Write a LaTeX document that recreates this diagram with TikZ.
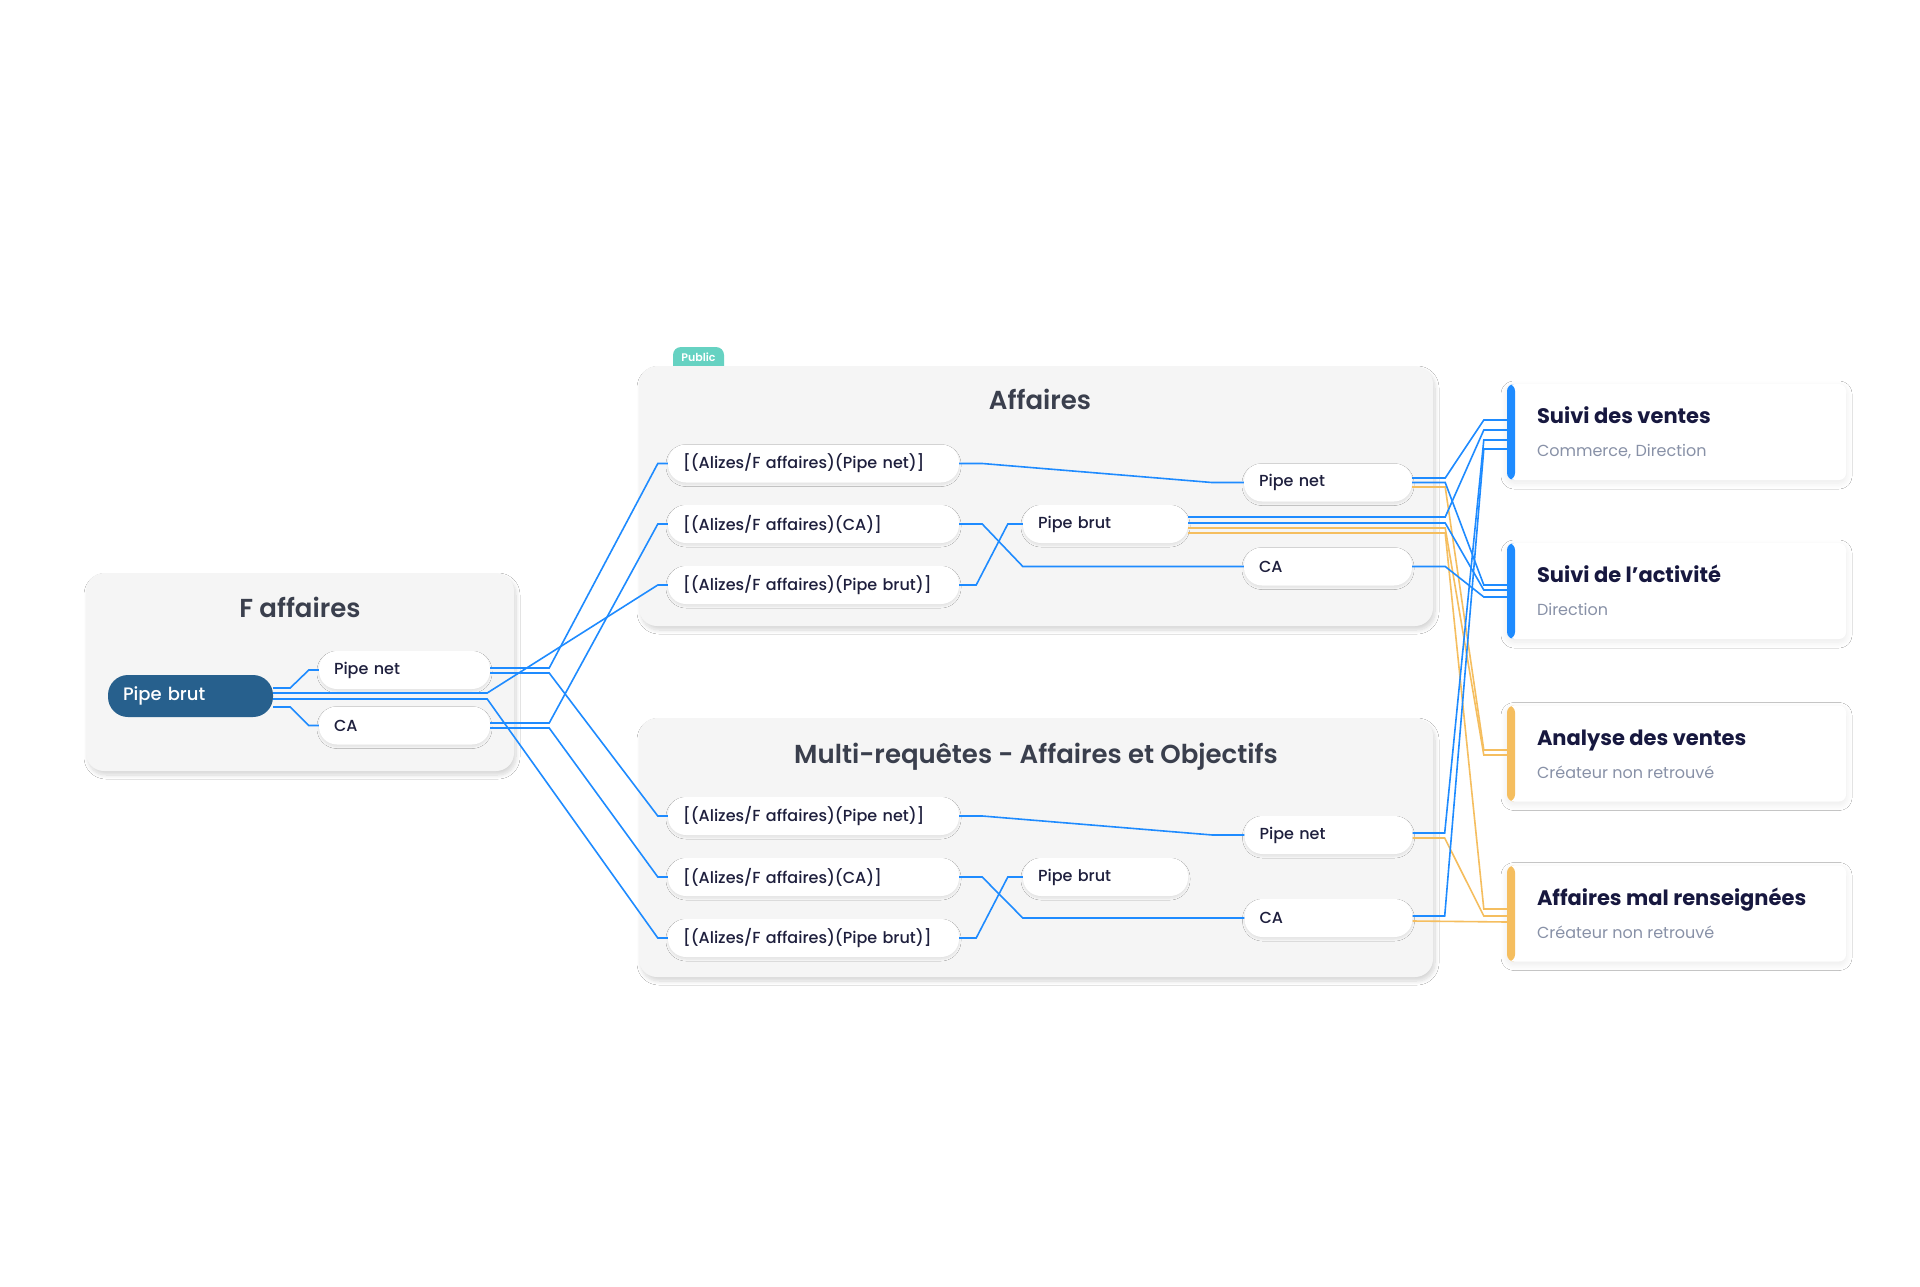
\documentclass[tikz,border=0pt]{standalone}
\usepackage{fontspec}
\setmainfont{Poppins}
\newfontfamily\medfont{Poppins Medium}
\newfontfamily\semifont{Poppins SemiBold}
\usetikzlibrary{shadows.blur}

\definecolor{linkblue}{HTML}{1E8BFF}
\definecolor{linkorange}{HTML}{F5BE5F}
\definecolor{panelgray}{HTML}{F5F5F5}
\definecolor{titlegray}{HTML}{3A3F4D}
\definecolor{pilltext}{HTML}{1E1F3D}
\definecolor{darkpill}{HTML}{27608D}
\definecolor{cardnavy}{HTML}{17183F}
\definecolor{cardgray}{HTML}{8891A7}
\definecolor{publicteal}{HTML}{66D2C2}

\begin{document}
\begin{tikzpicture}[
        x=1pt, y=-1pt,
        link/.style={draw=linkblue, line width=1.6pt},
        olink/.style={draw=linkorange, line width=1.6pt},
        panel/.style={fill=panelgray, rounded corners=18pt, inner sep=0pt,
            blur shadow={shadow xshift=2pt, shadow yshift=-4pt, shadow blur radius=4pt, shadow blur steps=10, shadow opacity=16}},
        paneltitle/.style={anchor=base, inner sep=0pt, text=titlegray, font=\semifont\fontsize{26}{30}\selectfont},
        pill/.style={fill=white, rounded corners=18pt, minimum height=38pt, inner xsep=15pt, inner ysep=0pt,
            text width=#1, align=left, text=pilltext, font=\medfont\fontsize{16}{19}\selectfont,
            blur shadow={shadow xshift=0pt, shadow yshift=-2pt, shadow blur radius=2pt, shadow blur steps=6, shadow opacity=8}},
        mainpill/.style={fill=darkpill, rounded corners=20pt, minimum height=42pt, inner xsep=15pt, inner ysep=0pt,
            text width=135pt, align=left, text=white, font=\medfont\fontsize{18}{21}\selectfont},
        tagtext/.style={inner sep=0pt, text=white, font=\semifont\fontsize{11}{13}\selectfont},
        card/.style={fill=white, rounded corners=7pt, minimum width=339pt, minimum height=96pt, inner sep=0pt,
            blur shadow={shadow xshift=0pt, shadow yshift=-3pt, shadow blur radius=6pt, shadow blur steps=10, shadow opacity=8},
            path picture={\fill[#1] (path picture bounding box.south west) rectangle ([xshift=8pt]path picture bounding box.north west);}},
        cardtitle/.style={anchor=base west, inner sep=0pt, text=cardnavy, font=\bfseries\fontsize{21}{25}\selectfont},
        cardsub/.style={anchor=base west, inner sep=0pt, text=cardgray, font=\fontsize{16}{19}\selectfont}
        ]
            \useasboundingbox[fill=white] (0,0) rectangle (1920,1287);

            % F affaires
            \node[panel, minimum width=428pt, minimum height=198pt] (fpanel) at (300,672) {};
            \node[paneltitle] (ftitle) at (300,617) {F affaires};
            \node[mainpill] (fbrut) at (190.5,696) {Pipe brut};
            \node[pill=141pt] (fnet) at (404.5,670) {Pipe net};
            \node[pill=141pt] (fca) at (404.5,725.5) {CA};

            % Affaires
            \fill[publicteal, rounded corners=8pt] (673,380) rectangle (724,347);
            \node[panel, minimum width=794pt, minimum height=260pt] (apanel) at (1036,496) {};
            \node[tagtext] (public) at (698.5,357) {Public};
            \node[paneltitle] (atitle) at (1040,409) {Affaires};
            \node[pill=261pt] (aq1) at (813.5,463.5) {[(Alizes/F affaires)(Pipe net)]};
            \node[pill=261pt] (aq2) at (813.5,524) {[(Alizes/F affaires)(CA)]};
            \node[pill=261pt] (aq3) at (813.5,585) {[(Alizes/F affaires)(Pipe brut)]};
            \node[pill=135pt] (abrut) at (1105.5,524) {Pipe brut};
            \node[pill=138pt] (anet) at (1328,482.5) {Pipe net};
            \node[pill=138pt] (aca) at (1328,566.5) {CA};

            % Multi-requetes
            \node[panel, minimum width=794pt, minimum height=259pt] (mpanel) at (1036,847.5) {};
            \node[paneltitle] (mtitle) at (1036,763) {Multi-requêtes - Affaires et Objectifs};
            \node[pill=261pt] (mq1) at (813.5,816) {[(Alizes/F affaires)(Pipe net)]};
            \node[pill=261pt] (mq2) at (813.5,877) {[(Alizes/F affaires)(CA)]};
            \node[pill=261pt] (mq3) at (813.5,938) {[(Alizes/F affaires)(Pipe brut)]};
            \node[pill=135pt] (mbrut) at (1105.5,877) {Pipe brut};
            \node[pill=138pt] (mnet) at (1328.5,835) {Pipe net};
            \node[pill=138pt] (mca) at (1328.5,918) {CA};

            % Usages
            \node[card=linkblue] (c1) at (1676.5,432) {};
            \node[cardtitle] (c1t) at ([xshift=30pt,yshift=-40pt]c1.north west) {Suivi des ventes};
            \node[cardsub] (c1s) at ([xshift=30pt,yshift=-73pt]c1.north west) {Commerce, Direction};
            \node[card=linkblue] (c2) at (1676.5,591) {};
            \node[cardtitle] (c2t) at ([xshift=30pt,yshift=-40pt]c2.north west) {Suivi de l’activité};
            \node[cardsub] (c2s) at ([xshift=30pt,yshift=-73pt]c2.north west) {Direction};
            \node[card=linkorange] (c3) at (1676.5,753.5) {};
            \node[cardtitle] (c3t) at ([xshift=30pt,yshift=-40pt]c3.north west) {Analyse des ventes};
            \node[cardsub] (c3s) at ([xshift=30pt,yshift=-73pt]c3.north west) {Créateur non retrouvé};
            \node[card=linkorange] (c4) at (1676.5,913.5) {};
            \node[cardtitle] (c4t) at ([xshift=30pt,yshift=-40pt]c4.north west) {Affaires mal renseignées};
            \node[cardsub] (c4s) at ([xshift=30pt,yshift=-73pt]c4.north west) {Créateur non retrouvé};

            % F affaires -> requetes
            \draw[link] ([yshift=8pt]fbrut.east) -- ++(17,0) -- ([xshift=-10pt]fnet.west) -- (fnet.west);
            \draw[link] ([yshift=-11pt]fbrut.east) -- ++(17,0) -- ([xshift=-10pt]fca.west) -- (fca.west);
            \draw[link] ([yshift=3pt]fbrut.east) -- ++(214,0) -- ([xshift=-10pt]aq3.west) -- (aq3.west);
            \draw[link] ([yshift=-3pt]fbrut.east) -- ++(214,0) -- ([xshift=-10pt]mq3.west) -- (mq3.west);
            \draw[link] ([yshift=2pt]fnet.east) -- ++(59,0) -- ([xshift=-10pt]aq1.west) -- (aq1.west);
            \draw[link] ([yshift=-3pt]fnet.east) -- ++(59,0) -- ([xshift=-10pt]mq1.west) -- (mq1.west);
            \draw[link] ([yshift=2.5pt]fca.east) -- ++(59,0) -- ([xshift=-10pt]aq2.west) -- (aq2.west);
            \draw[link] ([yshift=-2.5pt]fca.east) -- ++(59,0) -- ([xshift=-10pt]mq2.west) -- (mq2.west);

            % Affaires
            \draw[link] (aq1.east) -- ++(23,0) -- ([xshift=-32pt]anet.west) -- (anet.west);
            \draw[link] (aq2.east) -- ++(23,0) -- (abrut.west |- aca.west) -- (aca.west);
            \draw[link] (aq3.east) -- ++(17,0) -- ([xshift=-15pt]abrut.west) -- (abrut.west);

            % Multi-requetes
            \draw[link] (mq1.east) -- ++(23,0) -- ([xshift=-32pt]mnet.west) -- (mnet.west);
            \draw[link] (mq2.east) -- ++(23,0) -- (mbrut.west |- mca.west) -- (mca.west);
            \draw[link] (mq3.east) -- ++(17,0) -- ([xshift=-15pt]mbrut.west) -- (mbrut.west);

            % Requetes -> usages
            \draw[olink] ([yshift=-4.5pt]anet.east) -- ++(33,0) -- ([xshift=-23pt,yshift=3.5pt]c3.west) -- ([yshift=3.5pt]c3.west);
            \draw[olink] ([yshift=-4pt]abrut.east) -- ++(257,0) -- ([xshift=-23pt,yshift=-1.5pt]c3.west) -- ([yshift=-1.5pt]c3.west);
            \draw[olink] ([yshift=-9pt]abrut.east) -- ++(257,0) -- ([xshift=-23pt,yshift=4.5pt]c4.west) -- ([yshift=4.5pt]c4.west);
            \draw[olink] ([yshift=-3pt]mnet.east) -- ++(32,0) -- ([xshift=-23pt,yshift=-2.5pt]c4.west) -- ([yshift=-2.5pt]c4.west);
            \draw[olink] ([yshift=-3pt]mca.east) -- ([yshift=-8.5pt]c4.west);
            \draw[link] ([yshift=4.5pt]anet.east) -- ++(33,0) -- ([xshift=-23pt,yshift=12pt]c1.west) -- ([yshift=12pt]c1.west);
            \draw[link] (anet.east) -- ++(33,0) -- ([xshift=-23pt,yshift=6pt]c2.west) -- ([yshift=6pt]c2.west);
            \draw[link] ([yshift=7pt]abrut.east) -- ++(257,0) -- ([xshift=-23pt,yshift=2pt]c1.west) -- ([yshift=2pt]c1.west);
            \draw[link] ([yshift=1pt]abrut.east) -- ++(257,0) -- ([xshift=-23pt,yshift=1pt]c2.west) -- ([yshift=1pt]c2.west);
            \draw[link] (aca.east) -- ++(33,0) -- ([xshift=-23pt,yshift=-6pt]c2.west) -- ([yshift=-6pt]c2.west);
            \draw[link] ([yshift=2pt]mnet.east) -- ++(32,0) -- ([xshift=-23pt,yshift=-8pt]c1.west) -- ([yshift=-8pt]c1.west);
            \draw[link] ([yshift=2pt]mca.east) -- ++(32,0) -- ([xshift=-23pt,yshift=-17pt]c1.west) -- ([yshift=-17pt]c1.west);
        \end{tikzpicture}
\end{document}
